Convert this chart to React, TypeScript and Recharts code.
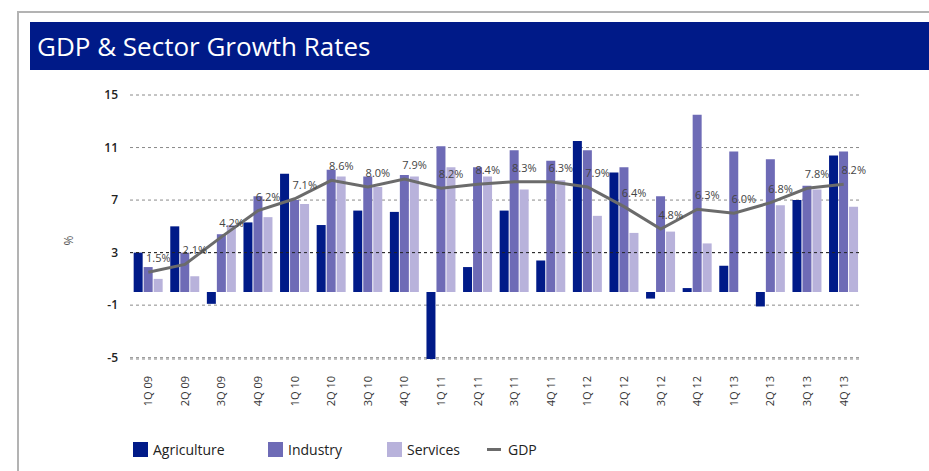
import { ComposedChart, Bar, Line, XAxis, YAxis, CartesianGrid, ReferenceLine, LabelList } from 'recharts';

const quarters = [
  '1Q 09', '2Q 09', '3Q 09', '4Q 09', '1Q 10', '2Q 10', '3Q 10', '4Q 10', '1Q 11', '2Q 11',
  '3Q 11', '4Q 11', '1Q 12', '2Q 12', '3Q 12', '4Q 12', '1Q 13', '2Q 13', '3Q 13', '4Q 13',
];
const agriculture = [3.0, 5.0, -0.9, 5.3, 9.0, 5.1, 6.2, 6.1, -5.1, 1.9, 6.2, 2.4, 11.5, 9.1, -0.5, 0.3, 2.0, -1.1, 7.0, 10.4];
const industry = [1.9, 3.0, 4.4, 7.3, 7.0, 9.3, 8.8, 8.9, 11.1, 9.5, 10.8, 10.0, 10.8, 9.5, 7.3, 13.5, 10.7, 10.1, 8.1, 10.7];
const services = [1.0, 1.2, 5.1, 5.7, 6.7, 8.8, 8.0, 8.8, 9.5, 8.8, 7.8, 8.5, 5.8, 4.5, 4.6, 3.7, null, 6.6, 7.8, 6.5];
const gdp = [1.5, 2.1, 4.2, 6.2, 7.1, 8.5, 8.0, 8.6, 7.9, 8.2, 8.4, 8.4, 8.0, 6.5, 4.8, 6.3, 6.0, 6.8, 7.9, 8.2];
const gdpLabels = [
  '1.5%', '2.1%', '4.2%', '6.2%', '7.1%', '8.6%', '8.0%', '7.9%', '8.2%', '8.4%',
  '8.3%', '6.3%', '7.9%', '6.4%', '4.8%', '6.3%', '6.0%', '6.8%', '7.8%', '8.2%',
];
const yTicks = [-5, -1, 3, 7, 11, 15];

const COLORS = {
  agriculture: '#001a88',
  industry: '#6e6bb6',
  services: '#b8b2db',
  gdp: '#6b6b6b',
  title: '#001a88',
};

const data = quarters.map((q, i) => ({
  q,
  agriculture: agriculture[i],
  industry: industry[i],
  services: services[i],
  gdp: gdp[i],
  gdpLabel: gdpLabels[i],
}));

const FONT = '"Open Sans", "DejaVu Sans", sans-serif';

function QuarterTick(props: any) {
  const { x, y, payload } = props;
  const ty = y + 9;
  return (
    <text
      x={x}
      y={ty}
      transform={`rotate(-90, ${x}, ${ty})`}
      textAnchor="end"
      dy="0.35em"
      fontSize={11}
      fill="#333"
      fontFamily={FONT}
    >
      {payload.value}
    </text>
  );
}

function GdpLabel(props: any) {
  const { x, y, value } = props;
  return (
    <text x={x + 10} y={y - 10} textAnchor="middle" fontSize={11} fill="#444" fontFamily={FONT}>
      {value}
    </text>
  );
}

const legendItems = [
  { name: 'Agriculture', color: COLORS.agriculture, left: 133, type: 'box' },
  { name: 'Industry', color: COLORS.industry, left: 268, type: 'box' },
  { name: 'Services', color: COLORS.services, left: 387, type: 'box' },
  { name: 'GDP', color: COLORS.gdp, left: 487, type: 'line' },
];

export default function App() {
  return (
    <div style={{ position: 'absolute', left: 0, top: 0, width: 929, height: 471, background: '#fff', overflow: 'hidden', fontFamily: FONT }}>
      {/* frame */}
      <div style={{ position: 'absolute', left: 17, top: 11, width: 920, height: 470, borderTop: '2px solid #b3b3b3', borderLeft: '2px solid #b3b3b3' }} />
      {/* title bar */}
      <div
        style={{
          position: 'absolute',
          left: 30,
          top: 22,
          width: 899,
          height: 48,
          background: COLORS.title,
          color: '#fff',
          fontSize: 26,
          lineHeight: '48px',
          paddingLeft: 7,
          boxSizing: 'border-box',
        }}
      >
        GDP &amp; Sector Growth Rates
      </div>
      {/* y unit */}
      <div style={{ position: 'absolute', left: 64, top: 232, fontSize: 12, color: '#555', transform: 'rotate(-90deg)' }}>%</div>

      <div style={{ position: 'absolute', left: 0, top: 0 }}>
        <ComposedChart
          width={929}
          height={471}
          data={data}
          margin={{ top: 95, right: 67, bottom: 0, left: 90 }}
          barCategoryGap="10%"
          barGap={1}
        >
          <CartesianGrid vertical={false} stroke="#8a8a8a" strokeDasharray="3 3" />
          <ReferenceLine y={3} stroke="#222" strokeDasharray="3 3" />
          <XAxis
            dataKey="q"
            axisLine={false}
            tickLine={false}
            interval={0}
            height={112}
            tick={<QuarterTick />}
          />
          <YAxis
            domain={[-5, 15]}
            ticks={yTicks}
            width={40}
            axisLine={false}
            tickLine={false}
            tickSize={0}
            tickMargin={12}
            tick={{ fontSize: 12, fill: '#222', fontWeight: 600, fontFamily: FONT }}
          />
          <Bar dataKey="agriculture" fill={COLORS.agriculture} isAnimationActive={false} />
          <Bar dataKey="industry" fill={COLORS.industry} isAnimationActive={false} />
          <Bar dataKey="services" fill={COLORS.services} isAnimationActive={false} />
          <Line
            type="linear"
            dataKey="gdp"
            stroke={COLORS.gdp}
            strokeWidth={3}
            dot={false}
            isAnimationActive={false}
          >
            <LabelList dataKey="gdpLabel" content={<GdpLabel />} />
          </Line>
        </ComposedChart>
      </div>

      {/* legend */}
      {legendItems.map((it) => (
        <div key={it.name} style={{ position: 'absolute', left: it.left, top: 440, height: 18, display: 'flex', alignItems: 'center', fontSize: 14, color: '#222' }}>
          {it.type === 'box' ? (
            <span style={{ display: 'inline-block', width: 15, height: 15, background: it.color, marginRight: 5 }} />
          ) : (
            <span style={{ display: 'inline-block', width: 14, height: 3, background: it.color, marginRight: 7 }} />
          )}
          {it.name}
        </div>
      ))}
    </div>
  );
}
